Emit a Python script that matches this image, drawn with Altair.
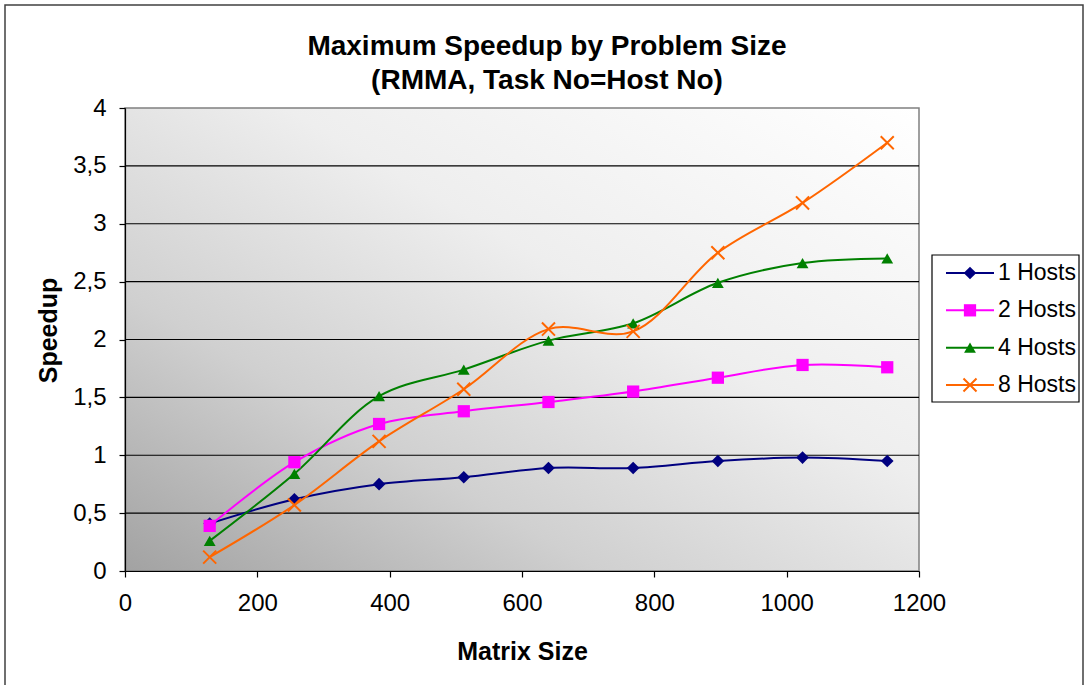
import altair as alt
import pandas as pd

matrix_size = [128, 256, 384, 512, 640, 768, 896, 1024, 1152]
hosts_1 = [0.41, 0.62, 0.75, 0.81, 0.89, 0.89, 0.95, 0.98, 0.95]
hosts_2 = [0.39, 0.94, 1.27, 1.38, 1.46, 1.55, 1.67, 1.78, 1.76]
hosts_4 = [0.26, 0.84, 1.51, 1.74, 1.99, 2.14, 2.49, 2.66, 2.70]
hosts_8 = [0.12, 0.57, 1.12, 1.57, 2.09, 2.07, 2.75, 3.18, 3.70]

series_names = ["1 Hosts", "2 Hosts", "4 Hosts", "8 Hosts"]
series_values = [hosts_1, hosts_2, hosts_4, hosts_8]
series_colors = ["#000080", "#FF00FF", "#008000", "#FF6600"]
x_path = "M-1,-1L1,1M-1,1L1,-1"
series_shapes = ["diamond", "square", "triangle-up", x_path]
series_sizes = [160, 130, 260, 170]

y_ticks = [0, 0.5, 1, 1.5, 2, 2.5, 3, 3.5, 4]
grid_lines = [0.5, 1, 1.5, 2, 2.5, 3, 3.5]
x_ticks = [0, 200, 400, 600, 800, 1000, 1200]
title_lines = ["Maximum Speedup by Problem Size", "(RMMA, Task No=Host No)"]

rows = []
for name, vals in zip(series_names, series_values):
    for xv, yv in zip(matrix_size, vals):
        rows.append({"size": xv, "speedup": yv, "series": name})
df = pd.DataFrame(rows)
legend_df = pd.DataFrame({"series": series_names})
grid_df = pd.DataFrame({"speedup": grid_lines})
one = pd.DataFrame({"k": [0]})

FONT = "Liberation Sans"
W, H = 794, 463

color_scale = alt.Scale(domain=series_names, range=series_colors)
shape_scale = alt.Scale(domain=series_names, range=series_shapes)
size_scale = alt.Scale(domain=series_names, range=series_sizes)

x_enc = alt.X("size:Q", scale=alt.Scale(domain=[0, 1200], nice=False),
              axis=alt.Axis(values=x_ticks, grid=False, title="Matrix Size", format="d",
                            titleY=88, titleBaseline="alphabetic", labelFlush=False,
                            labelPadding=14, zindex=1))
y_axis = alt.Axis(values=y_ticks, grid=False, title="Speedup",
                  labelExpr="replace(format(datum.value, '~g'), '.', ',')",
                  titleX=-69, titleY=222, titleAngle=-90, labelFlush=False,
                  titleAlign="center", titleBaseline="alphabetic",
                  labelPadding=13, zindex=1)
y_scale = alt.Scale(domain=[0, 4], nice=False)
y_enc = alt.Y("speedup:Q", scale=y_scale, axis=y_axis)

gradient = alt.LinearGradient(
    gradient="linear", x1=0, y1=1, x2=1, y2=0,
    stops=[alt.GradientStop(color="#a2a2a2", offset=0),
           alt.GradientStop(color="#d0d0d0", offset=0.3),
           alt.GradientStop(color="#eeeeee", offset=0.6),
           alt.GradientStop(color="#ffffff", offset=1)])

bg = alt.Chart(one).mark_rect(fill=gradient, stroke="#808080", strokeWidth=1.5).encode(
    x=alt.value(0), x2=alt.value(W), y=alt.value(0), y2=alt.value(H))
grid = alt.Chart(grid_df).mark_rule(color="black", strokeWidth=1.2).encode(
    y=y_enc, x=alt.value(0), x2=alt.value(W))

base = alt.Chart(df)
lines = base.mark_line(interpolate="catmull-rom", strokeWidth=2).encode(
    x=x_enc, y=y_enc,
    color=alt.Color("series:N", scale=color_scale, legend=None),
    detail="series:N",
)
pts = base.transform_filter("datum.series != '8 Hosts'").mark_point(filled=True, opacity=1).encode(
    x="size:Q", y="speedup:Q",
    color=alt.Color("series:N", scale=color_scale, legend=None),
    shape=alt.Shape("series:N", scale=shape_scale, legend=None),
    size=alt.Size("series:N", scale=size_scale, legend=None),
)
xs = base.transform_filter("datum.series == '8 Hosts'").mark_point(
    filled=False, shape=x_path, size=170, strokeWidth=2, opacity=1).encode(
    x="size:Q", y="speedup:Q",
    color=alt.Color("series:N", scale=color_scale, legend=None),
)
main = alt.layer(bg, grid, lines, pts, xs)

# outer chart border
outer = alt.Chart(one).mark_rect(fillOpacity=0, stroke="#404040", strokeWidth=1.5).encode(
    x=alt.value(-120), x2=alt.value(958), y=alt.value(-103), y2=alt.value(600))

# legend
leg_y = alt.Y("series:N", scale=alt.Scale(type="point", domain=series_names, range=[165, 277], padding=0), axis=None)
leg_box = alt.Chart(one).mark_rect(fill="white", stroke="black", strokeWidth=1.2).encode(
    x=alt.value(807), x2=alt.value(954), y=alt.value(147), y2=alt.value(294))
leg_lines = alt.Chart(legend_df).mark_rule(strokeWidth=2).encode(
    x=alt.value(821), x2=alt.value(869), y=leg_y,
    color=alt.Color("series:N", scale=color_scale, legend=None))
leg_pts = alt.Chart(legend_df).transform_filter("datum.series != '8 Hosts'").mark_point(filled=True, opacity=1).encode(
    x=alt.value(845), y=leg_y,
    color=alt.Color("series:N", scale=color_scale, legend=None),
    shape=alt.Shape("series:N", scale=shape_scale, legend=None),
    size=alt.Size("series:N", scale=size_scale, legend=None))
leg_x = alt.Chart(legend_df).transform_filter("datum.series == '8 Hosts'").mark_point(
    filled=False, shape=x_path, size=170, strokeWidth=2, opacity=1).encode(
    x=alt.value(845), y=leg_y,
    color=alt.Color("series:N", scale=color_scale, legend=None))
leg_text = alt.Chart(legend_df).mark_text(align="left", baseline="middle", font=FONT, fontSize=23, color="black").encode(
    x=alt.value(873), y=leg_y, text="series:N")
legend = alt.layer(leg_box, leg_lines, leg_pts, leg_x, leg_text)

chart = alt.layer(outer, main, legend).resolve_scale(y="independent").properties(
    width=W, height=H,
    title=alt.TitleParams(
        title_lines,
        font=FONT, fontSize=28, fontWeight="bold", color="black",
        anchor="middle", frame="group", dx=25, offset=-91, lineHeight=34),
    autosize=alt.AutoSizeParams(type="none"),
    padding={"left": 125, "top": 108, "right": 168, "bottom": 114},
    background="white",
).configure_view(
    stroke=None,
).configure_axis(
    labelFont=FONT, labelFontSize=24, labelColor="black",
    titleFont=FONT, titleFontSize=25, titleFontWeight="bold", titleColor="black",
    domainColor="black", domainWidth=1.2, tickColor="black", tickSize=6, tickWidth=1.2,
)

chart.save("out.html", embed_options={"renderer": "svg", "actions": False})
